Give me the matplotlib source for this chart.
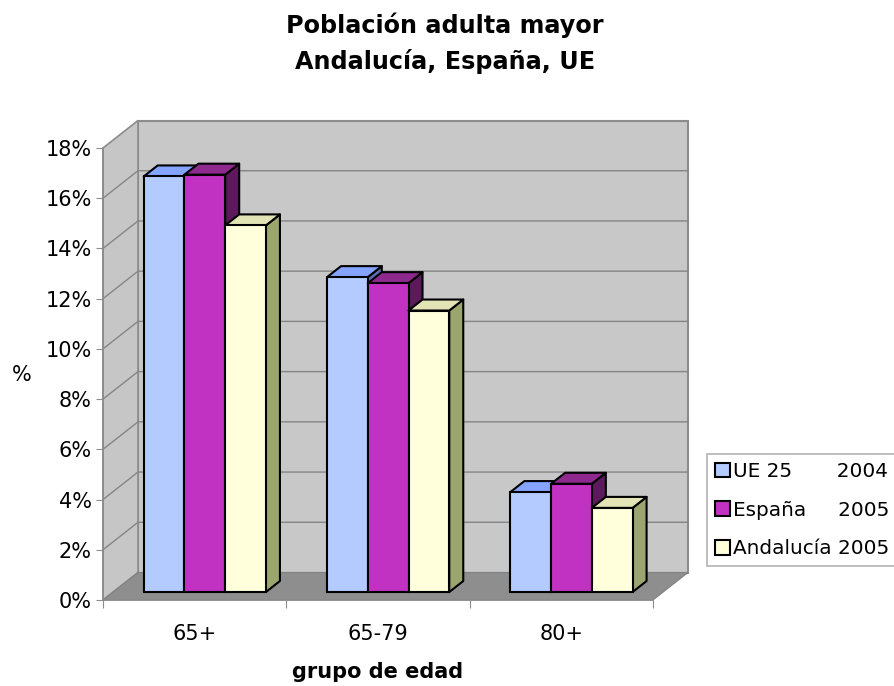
import numpy as np
import matplotlib
matplotlib.use("Agg")
import matplotlib.pyplot as plt
from matplotlib.patches import Polygon, Patch

# -----------------------------
# Dados
# -----------------------------
categorias = ["65+", "65-79", "80+"]
series = ["UE 25       2004", "España     2005", "Andalucía 2005"]
ue25 = [16.55, 12.54, 3.98]
espana = [16.62, 12.30, 4.31]
andalucia = [14.60, 11.21, 3.35]
yticks = [0, 2, 4, 6, 8, 10, 12, 14, 16, 18]

valores = [ue25, espana, andalucia]

# cores: frente, topo, lado
cor_frente = ["#B3CBFF", "#C232C2", "#FFFFDC"]
cor_topo = ["#84A4FF", "#8E2A8E", "#E2E4B6"]
cor_lado = ["#5C6FB4", "#5C1A5C", "#9AA66E"]

# -----------------------------
# Figura
# -----------------------------
fig = plt.figure(figsize=(8.95, 6.86), dpi=100)
ax = fig.add_axes([103/895, 86/686, 550/895, 452/686])
ax.set_xlim(0, 3)
ax.set_ylim(0, 18)

# profundidade do "3D" (em unidades de dados)
DX = 35 / (550/3)
DY = 27.5 / (452/18)
f0, f1 = 0.29, 0.69   # frente e fundo das barras
w = 2/9               # largura da barra (gap 150%)

cinza_borda = "#8C8C8C"

# paredes e chão
parede_fundo = Polygon([(DX, DY), (DX, 18+DY), (3+DX, 18+DY), (3+DX, DY)],
                       closed=True, fc="#C8C8C8", ec=cinza_borda, lw=1.5,
                       clip_on=False, zorder=1)
parede_lado = Polygon([(0, 0), (0, 18), (DX, 18+DY), (DX, DY)],
                      closed=True, fc="#C6C6C6", ec=cinza_borda, lw=1.2,
                      clip_on=False, zorder=1)
ax.add_patch(parede_fundo)
ax.add_patch(parede_lado)

for v in yticks[1:-1]:
    ax.plot([0, DX, 3+DX], [v, v+DY, v+DY], color="#858585", lw=1.0,
            clip_on=False, zorder=2)

chao = Polygon([(0, 0), (3, 0), (3+DX, DY), (DX, DY)], closed=True,
               fc="#8E8E8E", ec="#808080", lw=0.8, clip_on=False, zorder=3)
ax.add_patch(chao)

# -----------------------------
# Barras
# -----------------------------
z = 4
for c in range(len(categorias)):
    for i in range(len(series)):
        v = valores[i][c]
        x0 = c + (1 - 3*w)/2 + i*w + f0*DX
        y0 = f0*DY
        ddx = (f1 - f0)*DX
        ddy = (f1 - f0)*DY
        lado = Polygon([(x0+w, y0), (x0+w, y0+v), (x0+w+ddx, y0+v+ddy),
                        (x0+w+ddx, y0+ddy)], closed=True, fc=cor_lado[i],
                       ec="black", lw=1.5, joinstyle="round", clip_on=False, zorder=z)
        topo = Polygon([(x0, y0+v), (x0+w, y0+v), (x0+w+ddx, y0+v+ddy),
                        (x0+ddx, y0+v+ddy)], closed=True, fc=cor_topo[i],
                       ec="black", lw=1.5, joinstyle="round", clip_on=False, zorder=z)
        ax.add_patch(lado)
        ax.add_patch(topo)
        ax.bar(x0, v, width=w, bottom=y0, align="edge", color=cor_frente[i],
               edgecolor="black", linewidth=1.5, zorder=z, clip_on=False)
        z += 1

# -----------------------------
# Eixos
# -----------------------------
for s in ["top", "right"]:
    ax.spines[s].set_visible(False)
for s in ["left", "bottom"]:
    ax.spines[s].set_color(cinza_borda)
    ax.spines[s].set_linewidth(1.2)
    ax.spines[s].set_zorder(3.5)

ax.set_yticks(yticks)
ax.set_yticklabels([f"{t}%" for t in yticks])
ax.set_xticks([0, 1, 2, 3])
ax.set_xticklabels([])
ax.set_xticks([0.5, 1.5, 2.5], minor=True)
ax.set_xticklabels(categorias, minor=True)
ax.tick_params(axis="y", length=5, color=cinza_borda, labelsize=15, pad=3)
ax.tick_params(axis="x", which="major", length=6, color=cinza_borda)
ax.tick_params(axis="x", which="minor", length=0, labelsize=15, pad=17)
ax.set_facecolor("none")

fig.text(22/895, 1 - 375/686, "%", fontsize=15, ha="center", va="center")
ax.set_xlabel("grupo de edad", fontsize=15, fontweight="bold", labelpad=13)

fig.text(445/895, 1 - 25/686, "Población adulta mayor", fontsize=17.2,
         fontweight="bold", ha="center", va="center")
fig.text(445/895, 1 - 61/686, "Andalucía, España, UE", fontsize=17.2,
         fontweight="bold", ha="center", va="center")

# -----------------------------
# Legenda
# -----------------------------
handles = [Patch(facecolor=cor_frente[i], edgecolor="black", linewidth=1.5)
           for i in range(len(series))]
leg = fig.legend(handles, series, loc="upper left",
                 bbox_to_anchor=(707/895, 1 - 454/686), fontsize=14.4,
                 frameon=True, fancybox=False, edgecolor="#A0A0A0",
                 handlelength=0.75, handleheight=0.75, handletextpad=0.15,
                 labelspacing=0.98, borderpad=0.4, borderaxespad=0)
leg.get_frame().set_linewidth(1.2)

fig.savefig("out.png", dpi=100)
